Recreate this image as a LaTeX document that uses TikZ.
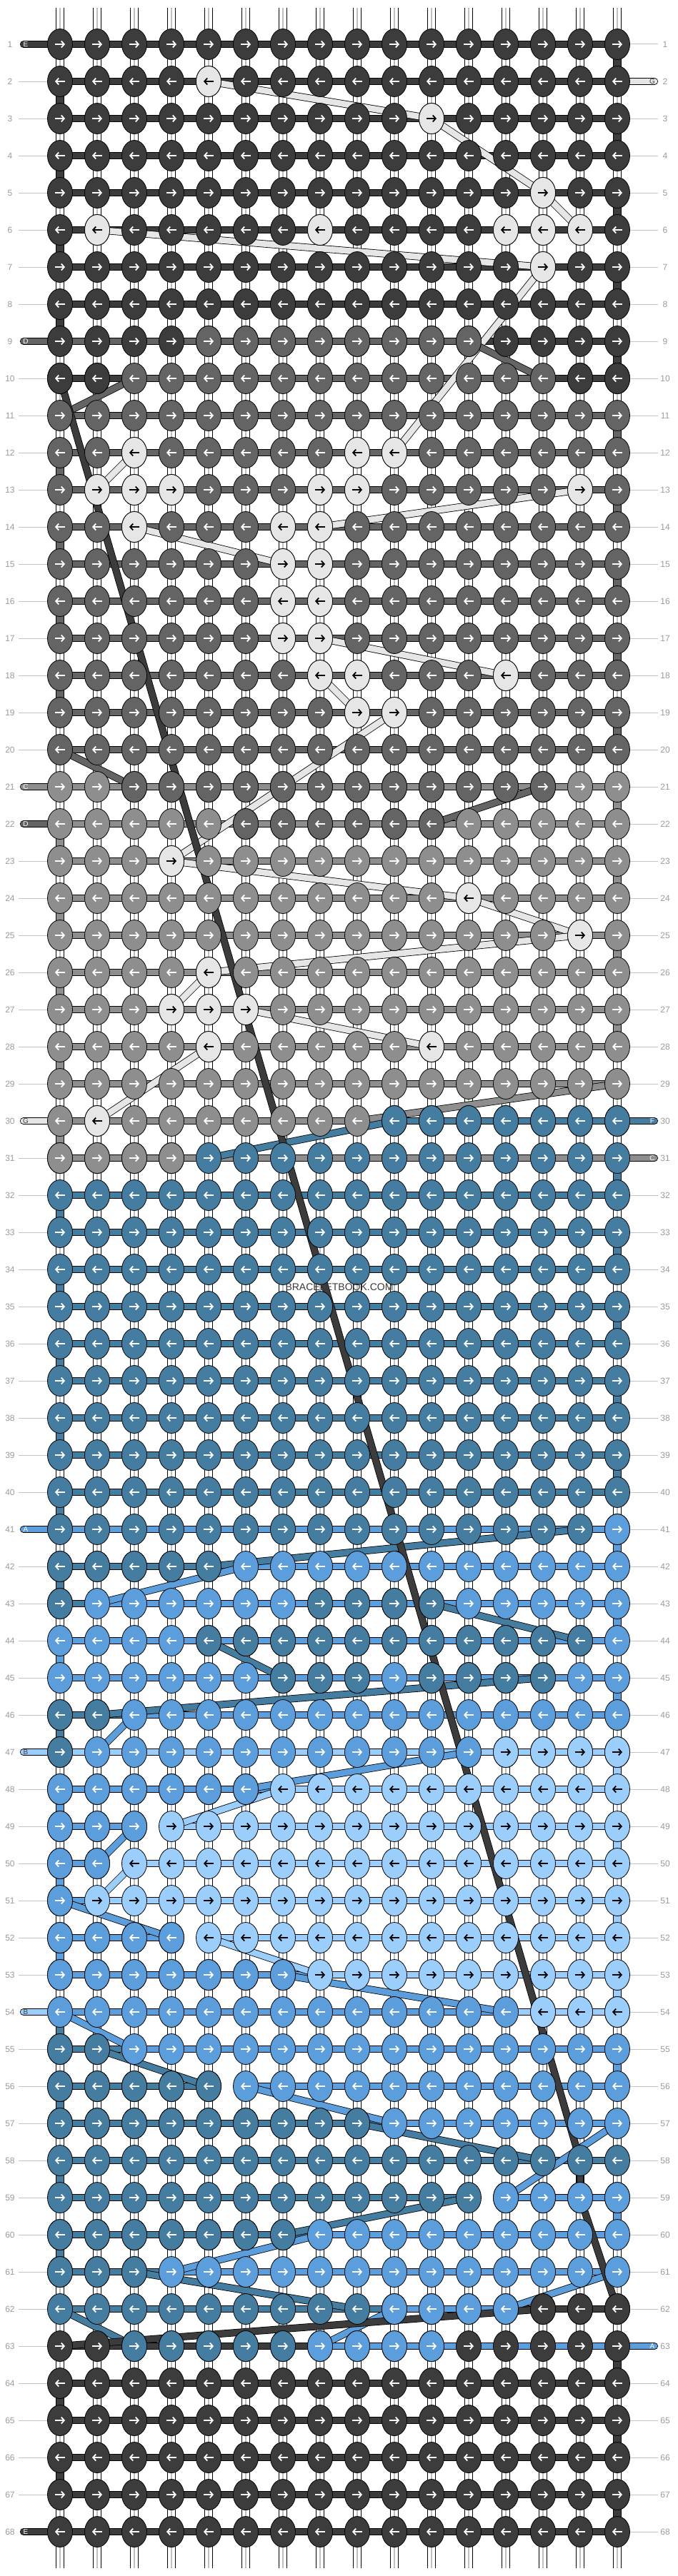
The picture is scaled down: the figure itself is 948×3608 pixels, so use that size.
\documentclass[tikz,border=0pt]{standalone}
\usepackage{fontspec}
\setmainfont{Liberation Sans}
\usetikzlibrary{shapes.geometric,arrows.meta}

\definecolor{colE}{HTML}{3C3C3C}
\definecolor{colD}{HTML}{646464}
\definecolor{colC}{HTML}{8E8E8E}
\definecolor{colG}{HTML}{E6E6E6}
\definecolor{colF}{HTML}{447DA0}
\definecolor{colA}{HTML}{5C9DDB}
\definecolor{colB}{HTML}{9BCEFA}
\definecolor{numgrey}{HTML}{9A9A9A}
\definecolor{linegrey}{HTML}{C4C4C4}

\tikzset{
  knot/.style={ellipse, draw=black, line width=0.8pt, minimum width=35pt,
    minimum height=43pt, inner sep=0pt},
  kE/.style={fill=colE}, kD/.style={fill=colD}, kC/.style={fill=colC},
  kG/.style={fill=colG}, kF/.style={fill=colF}, kA/.style={fill=colA},
  kB/.style={fill=colB},
  arE/.style={draw=white}, arD/.style={draw=white}, arC/.style={draw=white},
  arG/.style={draw=black}, arF/.style={draw=white}, arA/.style={draw=white},
  arB/.style={draw=black},
  arrowst/.style={line width=1.8pt, -{Straight Barb[length=4pt,width=9pt]}},
  strand/.style={draw=#1, line width=8.6pt, preaction={draw=black, line width=10.2pt}},
  vstrand/.style={draw=#1, line width=10.6pt, preaction={draw=black, line width=12.2pt}},
  tabstrand/.style={draw=#1, line width=8.6pt, line cap=round,
    preaction={draw=black, line width=10.2pt, line cap=round}},
  gap/.style={draw=white, line width=11pt},
  rowno/.style={text=numgrey, font=\fontsize{12}{12}\selectfont, inner sep=0pt},
  rowline/.style={draw=linegrey, line width=1pt},
  tabtext/.style={font=\fontsize{10}{10}\selectfont, inner sep=0pt},
}

% one knot: row, column, colour letter
\newcommand\knotat[3]{%
  \pgfmathsetmacro\kx{32+52*#2}%
  \pgfmathsetmacro\ky{10+52*#1}%
  \pgfmathsetmacro\kd{mod(#1,2)==1 ? 1 : -1}%
  \node[knot,k#3] (k-#1-#2) at (p-#1-#2) {};
  \draw[arrowst,ar#3] ({\kx-7*\kd},\ky) -- ({\kx+7*\kd},\ky);
}

\begin{document}
\begin{tikzpicture}[x=1pt,y=-1pt]
\useasboundingbox (0,0) rectangle (948,3608);
% knot positions
\foreach \r in {1,...,68}{
  \foreach \c in {1,...,16}{
    \coordinate (p-\r-\c) at ({32+52*\c},{10+52*\r});
  }
}
% vertical strings
\foreach \c in {1,...,16}{
  \coordinate (top-\c) at ({32+52*\c},11);
  \coordinate (bot-\c) at ({32+52*\c},3597);
  \draw[vstrand=white, line cap=round] (top-\c) -- (bot-\c);
  \draw[draw=black!25, line width=1.6pt] (top-\c) -- (bot-\c);
}
% strings turning at the edges
\foreach \ra/\rb/\k in {1/9/E,11/19/D,21/28/C,30/30/C,31/40/F,41/41/A,42/42/F,
    43/45/A,46/46/F,47/47/B,48/48/A,49/49/B,50/50/A,51/51/B,52/52/A,53/53/B,
    54/54/F,55/55/A,56/56/F,58/58/F,59/59/A,60/60/F,63/67/E}{
  \foreach \r in {\ra,...,\rb}{
    \pgfmathtruncatemacro\rn{\r+1}
    \pgfmathtruncatemacro\ec{mod(\r,2)==1 ? 16 : 1}
    \draw[vstrand=col\k] (p-\r-\ec) -- (p-\rn-\ec);
  }
}
% row numbers and guide lines
\foreach \r in {1,...,68}{
  \node[rowno] (nl-\r) at (14,{10+52*\r}) {\r};
  \node[rowno] (nr-\r) at (931,{10+52*\r}) {\r};
}
\foreach \ra/\rb in {2/8,10/20,23/29,31/40,42/46,48/53,55/67}{
  \foreach \r in {\ra,...,\rb}{
    \coordinate (gl-\r) at (26,{10+52*\r});
    \draw[rowline] (gl-\r) -- (p-\r-1);
  }
}
\foreach \ra/\rb in {1/1,3/29,32/62,64/68}{
  \foreach \r in {\ra,...,\rb}{
    \coordinate (gr-\r) at (921,{10+52*\r});
    \draw[rowline] (p-\r-16) -- (gr-\r);
  }
}
% rows
\foreach \ra/\rb/\k in {1/8/E,9/20/D,21/31/C,32/40/F,41/46/A,47/53/B,
    54/57/A,58/59/F,60/63/A,64/68/E}{
  \foreach \r in {\ra,...,\rb}{
    \draw[strand=col\k] (p-\r-1) -- (p-\r-16);
  }
}
\foreach \r/\a/\b/\k in {9/12/15/E,10/1/2/E,10/14/15/E,30/10/15/F,42/1/5/F,
    43/1/1/F,46/1/2/F,48/1/6/A,49/1/2/A,50/1/1/A,51/1/1/A,52/1/3/A,53/1/7/A,
    54/13/15/B,55/1/2/F,56/1/4/F,57/1/9/F,59/13/15/A,60/1/7/F,61/1/3/F,
    62/1/9/F,62/13/15/E,63/1/7/E}{
  \pgfmathtruncatemacro\bb{\b+1}
  \draw[strand=col\k] (p-\r-\a) -- (p-\r-\bb);
}
\foreach \r/\s in {49/3,50/2,52/4,56/5,59/12}{
  \pgfmathtruncatemacro\ss{\s+1}
  \draw[gap] (p-\r-\s) -- (p-\r-\ss);
}
% loose ends
\foreach \r/\k/\t in {1/E/white,9/D/white,21/C/white,22/D/white,30/G/black!75,
    41/A/white,47/B/black!75,54/B/black!75,68/E/white}{
  \coordinate (tl-\r) at (33,{10+52*\r});
  \draw[tabstrand=col\k] (tl-\r) -- (p-\r-1);
  \node[tabtext,text=\t] (tab-l-\r) at (36,{10+52*\r}) {\k};
}
\foreach \r/\k/\t in {2/G/black!75,30/F/white,31/C/white,63/A/white}{
  \coordinate (tr-\r) at (916,{10+52*\r});
  \draw[tabstrand=col\k] (p-\r-16) -- (tr-\r);
  \node[tabtext,text=\t] (tab-r-\r) at (913,{10+52*\r}) {\k};
}
% carried strings
\foreach \ra/\ca/\rb/\cb/\k in {2/5/3/11/G,3/11/5/14/G,5/14/6/15/G,6/2/7/14/G,
    7/14/12/10/G,9/12/10/14/D,10/3/11/1/D,12/3/13/2/G,13/15/14/8/G,14/3/15/7/G,
    17/8/18/13/G,18/8/19/9/G,19/10/23/4/G,20/1/21/3/D,21/14/22/11/D,
    23/4/24/12/G,24/12/25/15/G,25/15/26/5/G,26/5/27/4/G,27/6/28/11/G,
    28/5/30/2/G,29/16/30/9/C,30/10/31/5/F,41/15/42/5/F,42/6/43/2/A,
    43/11/44/15/F,44/5/45/7/F,45/14/46/2/F,46/3/47/2/A,47/12/48/6/A,
    48/7/49/4/B,49/3/50/2/A,50/3/51/2/B,51/1/52/4/A,52/5/53/8/B,53/7/54/13/A,
    54/1/55/3/A,55/2/56/5/F,56/6/57/10/A,57/9/58/14/F,57/16/59/13/A,
    59/12/60/7/F,60/8/61/4/A,61/3/62/9/F,61/16/62/13/A,62/10/63/8/A,
    62/1/63/3/F,62/14/63/1/E,10/1/58/15/E,58/15/59/15/E,59/15/62/16/E}{
  \draw[strand=col\k] (p-\ra-\ca) -- (p-\rb-\cb);
}
% knots
\foreach \ra/\rb/\k in {1/9/E,10/20/D,21/30/C,31/41/F,42/47/A,48/53/B,
    54/57/A,58/59/F,60/61/A,62/62/F,63/68/E}{
  \foreach \r in {\ra,...,\rb}{
    \foreach \c in {1,...,16}{\knotat{\r}{\c}{\k}}
  }
}
\foreach \r/\a/\b/\k in {2/5/5/G,3/11/11/G,5/14/14/G,6/2/2/G,6/8/8/G,
    6/13/15/G,7/14/14/G,9/5/12/D,10/1/2/E,10/15/16/E,12/3/3/G,12/9/10/G,
    13/2/4/G,13/8/9/G,13/15/15/G,14/3/3/G,14/7/8/G,15/7/8/G,16/7/8/G,
    17/7/8/G,18/8/9/G,18/13/13/G,19/9/10/G,21/3/14/D,22/6/11/D,23/4/4/G,
    24/12/12/G,25/15/15/G,26/5/5/G,27/4/6/G,28/5/5/G,28/11/11/G,30/2/2/G,
    30/10/16/F,31/1/4/C,41/16/16/A,42/1/5/F,43/1/1/F,43/8/11/F,44/5/15/F,
    45/7/9/F,45/11/14/F,46/1/2/F,47/1/1/F,47/13/16/B,48/1/6/A,49/1/3/A,
    50/1/2/A,51/1/1/A,52/1/4/A,53/1/7/A,54/14/16/B,55/1/2/F,56/1/5/F,
    57/1/9/F,59/13/16/A,60/1/7/F,61/1/3/F,62/10/13/A,62/14/16/E,63/3/7/F,
    63/8/11/A}{
  \foreach \c in {\a,...,\b}{\knotat{\r}{\c}{\k}}
}
% watermark
\node[text=black!78, font=\fontsize{14}{14}\selectfont, inner sep=0pt] (mark) at (475,1803) {BRACELETBOOK.COM};
\end{tikzpicture}
\end{document}
